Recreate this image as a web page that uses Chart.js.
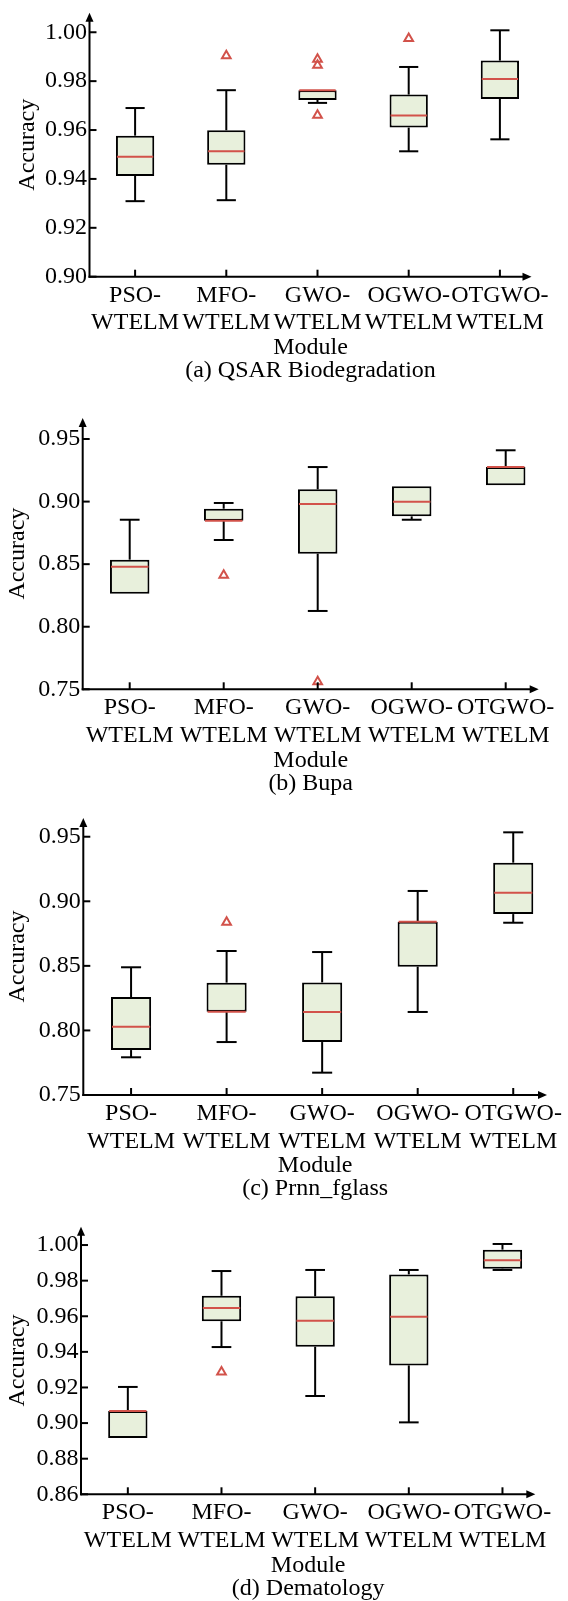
<!DOCTYPE html>
<html><head><meta charset="utf-8">
<script src="https://cdn.jsdelivr.net/npm/chart.js@4.4.1/dist/chart.umd.min.js"></script>
<style>
html,body{margin:0;padding:0;background:#fff;}
#wrap{position:relative;width:568px;height:1601px;overflow:hidden;background:#fff;}
.pan{position:absolute;left:0;width:568px;}
canvas{display:block;}
</style></head><body>
<div id="wrap">
<div class="pan" style="top:0px;height:400px"><canvas id="ca" width="568" height="400"></canvas></div>
<div class="pan" style="top:400px;height:400px"><canvas id="cb" width="568" height="400"></canvas></div>
<div class="pan" style="top:800px;height:404px"><canvas id="cc" width="568" height="404"></canvas></div>
<div class="pan" style="top:1204px;height:397px"><canvas id="cd" width="568" height="397"></canvas></div>
</div>
<script>
// ---------- DATA ----------
const categories = ['PSO-WTELM', 'MFO-WTELM', 'GWO-WTELM', 'OGWO-WTELM', 'OTGWO-WTELM'];

// (a) QSAR Biodegradation
const qsarMin = [0.9309, 0.9313, 0.9711, 0.9513, 0.9562];
const qsarQ1  = [0.9412, 0.9458, 0.9723, 0.9610, 0.9727];
const qsarMed = [0.9491, 0.9513, 0.9763, 0.9659, 0.9809];
const qsarQ3  = [0.9577, 0.9599, 0.9763, 0.9745, 0.9884];
const qsarMax = [0.9690, 0.9763, 0.9763, 0.9858, 1.0008];
const qsarOutCat = ['MFO-WTELM', 'GWO-WTELM', 'GWO-WTELM', 'GWO-WTELM', 'OGWO-WTELM'];
const qsarOutVal = [0.9904, 0.9890, 0.9865, 0.9660, 0.9974];
const qsarTicks = [0.90, 0.92, 0.94, 0.96, 0.98, 1.00];
const qsarRange = [0.90, 1.008];

// (b) Bupa
const bupaMin = [0.8264, 0.8693, 0.8126, 0.8855, 0.9130];
const bupaQ1  = [0.8264, 0.8847, 0.8584, 0.8882, 0.9130];
const bupaMed = [0.8480, 0.8847, 0.8981, 0.8999, 0.9276];
const bupaQ3  = [0.8536, 0.8943, 0.9098, 0.9122, 0.9276];
const bupaMax = [0.8855, 0.8989, 0.9276, 0.9122, 0.9410];
const bupaOutCat = ['MFO-WTELM', 'GWO-WTELM'];
const bupaOutVal = [0.8411, 0.7561];
const bupaTicks = [0.75, 0.80, 0.85, 0.90, 0.95];
const bupaRange = [0.75, 0.9668];

// (c) Prnn_fglass
const fglassMin = [0.7792, 0.7910, 0.7673, 0.8143, 0.8834];
const fglassQ1  = [0.7848, 0.8145, 0.7910, 0.8494, 0.8901];
const fglassMed = [0.8029, 0.8145, 0.8143, 0.8842, 0.9066];
const fglassQ3  = [0.8259, 0.8370, 0.8372, 0.8842, 0.9299];
const fglassMax = [0.8489, 0.8615, 0.8607, 0.9080, 0.9534];
const fglassOutCat = ['MFO-WTELM'];
const fglassOutVal = [0.8837];
const fglassTicks = [0.75, 0.80, 0.85, 0.90, 0.95];
const fglassRange = [0.75, 0.9645];

// (d) Dematology
const demaMin = [0.8916, 0.9427, 0.9152, 0.9004, 0.9860];
const demaQ1  = [0.8916, 0.9572, 0.9429, 0.9324, 0.9867];
const demaMed = [0.9068, 0.9646, 0.9575, 0.9597, 0.9914];
const demaQ3  = [0.9068, 0.9715, 0.9712, 0.9835, 0.9974];
const demaMax = [0.9203, 0.9854, 0.9860, 0.9860, 1.0006];
const demaOutCat = ['MFO-WTELM'];
const demaOutVal = [0.9287];
const demaTicks = [0.86, 0.88, 0.90, 0.92, 0.94, 0.96, 0.98, 1.00];
const demaRange = [0.86, 1.0103];

const captions = ['(a) QSAR Biodegradation', '(b) Bupa', '(c) Prnn_fglass', '(d) Dematology'];
const xTitle = 'Module';
const yTitle = 'Accuracy';

// ---------- STYLE ----------
const FONT = '"Liberation Serif", "Times New Roman", serif';
const BOX_FILL = '#e8f0dc';
const RED = '#d2524a';

const boxPlugin = {
  id: 'boxDraw',
  afterDatasetsDraw(chart) {
    const p = chart.options.plugins.boxDraw;
    const {ctx, scales: {y}} = chart;
    const meta = chart.getDatasetMeta(0);
    ctx.save();
    ctx.lineCap = 'butt';
    meta.data.forEach((bar, i) => {
      const cx = bar.x, w = bar.width, cap = w / 2;
      const yMin = y.getPixelForValue(p.min[i]);
      const yQ1 = y.getPixelForValue(p.q1[i]);
      const yQ3 = y.getPixelForValue(p.q3[i]);
      const yMax = y.getPixelForValue(p.max[i]);
      const yMed = y.getPixelForValue(p.med[i]);
      ctx.strokeStyle = '#000';
      ctx.lineWidth = 2;
      if (p.max[i] > p.q3[i]) {
        ctx.beginPath(); ctx.moveTo(cx, yQ3); ctx.lineTo(cx, yMax); ctx.stroke();
        ctx.beginPath(); ctx.moveTo(cx - cap / 2, yMax); ctx.lineTo(cx + cap / 2, yMax); ctx.stroke();
      }
      if (p.min[i] < p.q1[i]) {
        ctx.beginPath(); ctx.moveTo(cx, yQ1); ctx.lineTo(cx, yMin); ctx.stroke();
        ctx.beginPath(); ctx.moveTo(cx - cap / 2, yMin); ctx.lineTo(cx + cap / 2, yMin); ctx.stroke();
      }
      ctx.strokeStyle = RED;
      ctx.lineWidth = 2;
      ctx.beginPath(); ctx.moveTo(cx - w / 2 + 1, yMed); ctx.lineTo(cx + w / 2 - 1, yMed); ctx.stroke();
    });
    ctx.restore();
  }
};

const axisPlugin = {
  id: 'axesArrows',
  afterDraw(chart) {
    const p = chart.options.plugins.axesArrows;
    const {ctx, chartArea: {left, right, top, bottom}, scales: {x, y}} = chart;
    const xEnd = right - 14;
    ctx.save();
    ctx.strokeStyle = '#000'; ctx.fillStyle = '#000'; ctx.lineWidth = 2;
    ctx.beginPath(); ctx.moveTo(left, bottom + 1); ctx.lineTo(left, top + 8); ctx.stroke();
    ctx.beginPath(); ctx.moveTo(left, top); ctx.lineTo(left - 4, top + 9); ctx.lineTo(left + 4, top + 9); ctx.closePath(); ctx.fill();
    ctx.beginPath(); ctx.moveTo(left - 1, bottom); ctx.lineTo(xEnd - 8, bottom); ctx.stroke();
    ctx.beginPath(); ctx.moveTo(xEnd, bottom); ctx.lineTo(xEnd - 9, bottom - 4); ctx.lineTo(xEnd - 9, bottom + 4); ctx.closePath(); ctx.fill();
    y.ticks.forEach(t => {
      const py = y.getPixelForValue(t.value);
      ctx.beginPath(); ctx.moveTo(left, py); ctx.lineTo(left + 7, py); ctx.stroke();
    });
    x.ticks.forEach((t, i) => {
      const px = x.getPixelForTick(i);
      ctx.beginPath(); ctx.moveTo(px, bottom); ctx.lineTo(px, bottom - 7); ctx.stroke();
    });
    ctx.font = '24px ' + FONT;
    ctx.fillStyle = '#000';
    ctx.textAlign = 'center';
    ctx.textBaseline = 'middle';
    const cx = (left + xEnd) / 2;
    ctx.fillText(xTitle, cx, bottom + 71);
    ctx.fillText(p.caption, cx, bottom + 94);
    ctx.restore();
  }
};

function makeChart(id, d, lay) {
  const outData = d.outCat.map((c, i) => ({x: c, y: d.outVal[i]}));
  return new Chart(document.getElementById(id), {
    type: 'bar',
    data: {
      labels: categories,
      datasets: [
        {
          type: 'bar',
          data: d.q1.map((v, i) => [d.q1[i], d.q3[i]]),
          backgroundColor: BOX_FILL,
          borderColor: '#000',
          borderWidth: 2,
          borderSkipped: false,
          barPercentage: 0.42,
          categoryPercentage: 1,
          clip: false
        },
        {
          type: 'line',
          data: outData,
          showLine: false,
          pointStyle: 'triangle',
          pointRadius: 5,
          pointBorderWidth: 2,
          pointBorderColor: RED,
          pointBackgroundColor: 'rgba(255,255,255,0)',
          borderColor: RED,
          clip: false
        }
      ]
    },
    options: {
      responsive: false,
      animation: false,
      events: [],
      layout: {padding: {left: 0, right: lay.padRight, top: lay.padTop, bottom: lay.padBottom}},
      plugins: {
        legend: {display: false},
        tooltip: {enabled: false},
        title: {display: false},
        boxDraw: {min: d.min, q1: d.q1, med: d.med, q3: d.q3, max: d.max},
        axesArrows: {caption: lay.caption}
      },
      scales: {
        x: {
          type: 'category',
          offset: true,
          grid: {display: false, drawTicks: false},
          border: {display: false},
          ticks: {
            font: {family: FONT, size: 24, lineHeight: 1.146},
            color: '#000',
            padding: 5,
            maxRotation: 0, minRotation: 0, autoSkip: false,
            callback(v) {
              const s = this.getLabelForValue(v);
              const k = s.indexOf('-');
              return [s.slice(0, k + 1), s.slice(k + 1)];
            }
          },
          afterFit(s) { s.height = 60; s.paddingLeft = 0; s.paddingRight = 0; }
        },
        y: {
          min: d.range[0], max: d.range[1],
          grid: {display: false, drawTicks: false},
          border: {display: false},
          afterBuildTicks(s) { s.ticks = d.ticks.map(v => ({value: v})); },
          ticks: {
            font: {family: FONT, size: 24, lineHeight: 1},
            color: '#000',
            padding: 2.5,
            autoSkip: false,
            callback: v => Number(v).toFixed(2)
          },
          title: {
            display: true, text: yTitle, color: '#000',
            font: {family: FONT, size: 24, lineHeight: 1},
            padding: {top: lay.titlePad, bottom: 0}
          },
          afterFit(s) { s.width = lay.left; s.paddingTop = 0; s.paddingBottom = 0; }
        }
      }
    },
    plugins: [boxPlugin, axisPlugin]
  });
}

makeChart('ca', {min: qsarMin, q1: qsarQ1, med: qsarMed, q3: qsarQ3, max: qsarMax, outCat: qsarOutCat, outVal: qsarOutVal, ticks: qsarTicks, range: qsarRange},
  {padTop: 12.7, padBottom: 63.3, left: 89.5, padRight: 22.5, titlePad: 15.5, caption: captions[0]});
makeChart('cb', {min: bupaMin, q1: bupaQ1, med: bupaMed, q3: bupaQ3, max: bupaMax, outCat: bupaOutCat, outVal: bupaOutVal, ticks: bupaTicks, range: bupaRange},
  {padTop: 18, padBottom: 50.7, left: 82.7, padRight: 15.3, titlePad: 6, caption: captions[1]});
makeChart('cc', {min: fglassMin, q1: fglassQ1, med: fglassMed, q3: fglassQ3, max: fglassMax, outCat: fglassOutCat, outVal: fglassOutVal, ticks: fglassTicks, range: fglassRange},
  {padTop: 18, padBottom: 49, left: 83.3, padRight: 3.7, titlePad: 6, caption: captions[2]});
makeChart('cd', {min: demaMin, q1: demaQ1, med: demaMed, q3: demaQ3, max: demaMax, outCat: demaOutCat, outVal: demaOutVal, ticks: demaTicks, range: demaRange},
  {padTop: 22.7, padBottom: 46.7, left: 81, padRight: 18.7, titlePad: 5.4, caption: captions[3]});
</script>
</body></html>
